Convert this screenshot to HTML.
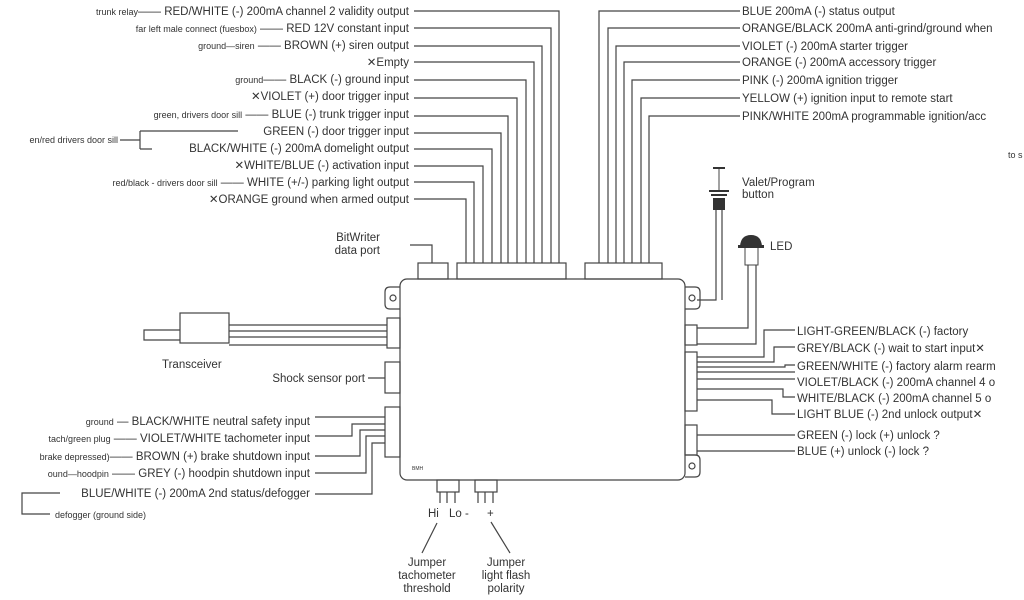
<!DOCTYPE html>
<html><head><meta charset="utf-8"><style>
html,body{margin:0;padding:0;background:#fff;}
svg{display:block;}
text{font-family:"Liberation Sans",sans-serif;fill:#333;font-size:11.5px;}
.s{font-size:9px;}
</style></head><body>
<svg width="1024" height="600" viewBox="0 0 1024 600" xmlns="http://www.w3.org/2000/svg">
<g stroke="#444" stroke-width="1.2" fill="none">
<path d="M414 11H559V263M414 28H551V263M414 46H542V263M414 62H534V263M414 80H526V263M414 98H517V263M414 116H508V263M414 133H501V263M414 149H492V263M414 166H483V263M414 182H474V263M414 199H466V263"/>
<path d="M740 11H599V263M740 28H608V263M740 46H616V263M740 62H624V263M740 80H632V263M740 98H641V263M740 116H649V263"/>
<rect x="418" y="263" width="30" height="16"/>
<rect x="457" y="263" width="109" height="16"/>
<rect x="585" y="263" width="77" height="16"/>
<path d="M410 245H432V263"/>
<rect x="400" y="279" width="285" height="201" rx="7"/>
<path d="M400 287H390Q385 287 385 292V304Q385 309 390 309H400"/><circle cx="393" cy="298" r="3"/>
<path d="M685 287H695Q700 287 700 292V304Q700 309 695 309H685"/><circle cx="692" cy="298" r="3"/>
<path d="M685 455H695Q700 455 700 460V472Q700 477 695 477H685"/><circle cx="692" cy="466" r="3"/>
<rect x="387" y="318" width="13" height="30"/>
<rect x="385" y="362" width="15" height="31"/>
<rect x="385" y="407" width="15" height="50"/>
<rect x="180" y="313" width="49" height="30"/>
<path d="M180 330H144V340H180"/>
<path d="M229 325H387M229 331H387M229 337H387M229 345H387"/>
<path d="M368 378H385"/>
<path d="M315 417H385M315 436H352V424H385M315 456H360V430H385M315 473H366V436H385M315 494H372V443H385"/>
<path d="M60 493H22V514H50"/>
<rect x="685" y="325" width="12" height="20"/>
<rect x="685" y="352" width="12" height="59"/>
<rect x="685" y="425" width="12" height="30"/>
<path d="M716 210V300H697M722 210V300"/>
<path d="M748 265V328H697M756 265V344H697"/>
<path d="M697 357H764V330H795M697 362H774V347H795M697 367H785V365H795M697 372H795M697 379H795M697 389H783V397H795M697 400H772V414H795M697 435H795M697 451H795"/>
<rect x="437" y="480" width="22" height="12"/>
<rect x="475" y="480" width="22" height="12"/>
<path d="M440 492V503M447 492V503M455 492V503M478 492V503M485 492V503M493 492V503"/>
<path d="M437 523L422 553M491 522L510 553"/>
<path d="M120 140H140M140 131V149M140 131H238M140 149H152"/>
</g>
<g fill="#333">
<rect x="713" y="167" width="12" height="2"/>
<rect x="709" y="190" width="20" height="2"/>
<rect x="711" y="194" width="16" height="2"/>
<rect x="713" y="198" width="12" height="12"/>
<path d="M740 246Q741 235 751 235Q761 235 762 246Z"/>
<rect x="738" y="245" width="26" height="3"/>
</g>
<path d="M745 248V265H758V248" stroke="#444" fill="none"/>
<path d="M719 169V190" stroke="#444"/>
<text x="742" y="186">Valet/Program</text>
<text x="742" y="198">button</text>
<text x="770" y="250">LED</text>
<text x="1008" y="158" class="s">to s</text>
<g text-anchor="end">
<text x="409" y="15"><tspan class="s">trunk relay</tspan>—— RED/WHITE (-) 200mA channel 2 validity output</text>
<text x="409" y="32"><tspan class="s">far left male connect (fuesbox)</tspan> —— RED 12V constant input</text>
<text x="409" y="49"><tspan class="s">ground—siren</tspan> —— BROWN  (+) siren output</text>
<text x="409" y="66">✕Empty</text>
<text x="409" y="83"><tspan class="s">ground</tspan>—— BLACK (-) ground input</text>
<text x="409" y="100">✕VIOLET (+) door trigger input</text>
<text x="409" y="118"><tspan class="s">green, drivers door sill</tspan> —— BLUE (-) trunk trigger input</text>
<text x="409" y="135">GREEN (-) door trigger input</text>
<text x="409" y="152">BLACK/WHITE (-) 200mA domelight output</text>
<text x="409" y="169">✕WHITE/BLUE (-) activation input</text>
<text x="409" y="186"><tspan class="s">red/black - drivers door sill</tspan> —— WHITE (+/-) parking light output</text>
<text x="409" y="203">✕ORANGE ground when armed output</text>
<text x="380" y="241">BitWriter</text>
<text x="380" y="254">data port</text>
<text x="365" y="382">Shock sensor port</text>
<text x="310" y="425"><tspan class="s">ground</tspan> — BLACK/WHITE neutral safety input</text>
<text x="310" y="442"><tspan class="s">tach/green plug</tspan> —— VIOLET/WHITE tachometer input</text>
<text x="310" y="460"><tspan class="s">brake depressed)</tspan>—— BROWN (+) brake shutdown input</text>
<text x="310" y="477"><tspan class="s">ound—hoodpin</tspan> —— GREY (-) hoodpin shutdown input</text>
<text x="310" y="497">BLUE/WHITE (-) 200mA 2nd status/defogger</text>
<text x="118" y="143" class="s">en/red drivers door sill</text>
</g>
<text x="55" y="518" class="s">defogger (ground side)</text>
<text x="162" y="368">Transceiver</text>
<text x="742" y="15">BLUE 200mA (-) status output</text>
<text x="742" y="32">ORANGE/BLACK 200mA anti-grind/ground when</text>
<text x="742" y="50">VIOLET (-) 200mA starter trigger</text>
<text x="742" y="66">ORANGE (-) 200mA accessory trigger</text>
<text x="742" y="84">PINK (-) 200mA ignition trigger</text>
<text x="742" y="102">YELLOW (+) ignition input to remote start</text>
<text x="742" y="120">PINK/WHITE 200mA programmable ignition/acc</text>
<text x="797" y="335">LIGHT-GREEN/BLACK (-) factory</text>
<text x="797" y="352">GREY/BLACK (-) wait to start input✕</text>
<text x="797" y="370">GREEN/WHITE (-) factory alarm rearm</text>
<text x="797" y="386">VIOLET/BLACK (-) 200mA channel 4 o</text>
<text x="797" y="402">WHITE/BLACK (-) 200mA channel 5 o</text>
<text x="797" y="418">LIGHT BLUE (-) 2nd unlock output✕</text>
<text x="797" y="439">GREEN (-) lock (+) unlock ?</text>
<text x="797" y="455">BLUE (+) unlock (-) lock ?</text>
<text x="412" y="470" style="font-size:5px">BMH</text>
<text x="428" y="517">Hi</text>
<text x="449" y="517">Lo -</text>
<text x="487" y="517">+</text>
<g text-anchor="middle">
<text x="427" y="566">Jumper</text>
<text x="427" y="579">tachometer</text>
<text x="427" y="592">threshold</text>
<text x="506" y="566">Jumper</text>
<text x="506" y="579">light flash</text>
<text x="506" y="592">polarity</text>
</g>
</svg>
</body></html>
